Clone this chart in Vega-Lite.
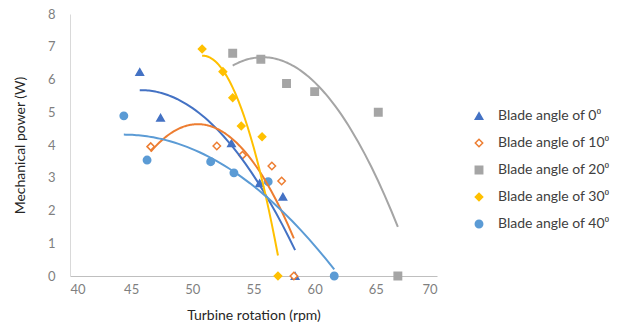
{
  "$schema": "https://vega.github.io/schema/vega-lite/v6.json",
  "width": 367,
  "height": 262,
  "autosize": {"type": "none"},
  "padding": {"left": 70, "top": 14, "right": 192, "bottom": 55},
  "background": "white",
  "config": {
    "view": {"stroke": null},
    "font": "Lato"
  },
  "data": {
    "values": [
      {"series": "Blade angle of 0⁰", "rpm": 45.7, "power": 6.23},
      {"series": "Blade angle of 0⁰", "rpm": 47.4, "power": 4.83},
      {"series": "Blade angle of 0⁰", "rpm": 53.2, "power": 4.05},
      {"series": "Blade angle of 0⁰", "rpm": 55.5, "power": 2.83},
      {"series": "Blade angle of 0⁰", "rpm": 57.4, "power": 2.42},
      {"series": "Blade angle of 0⁰", "rpm": 58.4, "power": 0},
      {"series": "Blade angle of 10⁰", "rpm": 46.6, "power": 3.95},
      {"series": "Blade angle of 10⁰", "rpm": 52.0, "power": 3.97},
      {"series": "Blade angle of 10⁰", "rpm": 54.1, "power": 3.69},
      {"series": "Blade angle of 10⁰", "rpm": 56.5, "power": 3.36},
      {"series": "Blade angle of 10⁰", "rpm": 57.3, "power": 2.9},
      {"series": "Blade angle of 10⁰", "rpm": 58.3, "power": 0},
      {"series": "Blade angle of 20⁰", "rpm": 53.3, "power": 6.8},
      {"series": "Blade angle of 20⁰", "rpm": 55.6, "power": 6.62},
      {"series": "Blade angle of 20⁰", "rpm": 57.7, "power": 5.88},
      {"series": "Blade angle of 20⁰", "rpm": 60.0, "power": 5.63},
      {"series": "Blade angle of 20⁰", "rpm": 65.2, "power": 5.0},
      {"series": "Blade angle of 20⁰", "rpm": 66.8, "power": 0},
      {"series": "Blade angle of 30⁰", "rpm": 50.8, "power": 6.93},
      {"series": "Blade angle of 30⁰", "rpm": 52.5, "power": 6.24},
      {"series": "Blade angle of 30⁰", "rpm": 53.3, "power": 5.44},
      {"series": "Blade angle of 30⁰", "rpm": 54.0, "power": 4.58},
      {"series": "Blade angle of 30⁰", "rpm": 55.7, "power": 4.25},
      {"series": "Blade angle of 30⁰", "rpm": 57.0, "power": 0},
      {"series": "Blade angle of 40⁰", "rpm": 44.4, "power": 4.89},
      {"series": "Blade angle of 40⁰", "rpm": 46.3, "power": 3.54},
      {"series": "Blade angle of 40⁰", "rpm": 51.5, "power": 3.49},
      {"series": "Blade angle of 40⁰", "rpm": 53.4, "power": 3.15},
      {"series": "Blade angle of 40⁰", "rpm": 56.2, "power": 2.88},
      {"series": "Blade angle of 40⁰", "rpm": 61.6, "power": 0}
    ]
  },
  "encoding": {
    "x": {
      "field": "rpm", "type": "quantitative",
      "scale": {"domain": [40, 70], "nice": false, "zero": false},
      "axis": {
        "title": "Turbine rotation (rpm)", "values": [40, 45, 50, 55, 60, 65, 70],
        "grid": false, "ticks": false, "domainColor": "#BFBFBF", "domainWidth": 1,
        "labelColor": "#7F7F7F", "labelFontSize": 13, "labelPadding": 7,
        "titleColor": "#262626", "titleFontSize": 14, "titleFontWeight": "normal", "titlePadding": 12
      }
    },
    "y": {
      "field": "power", "type": "quantitative",
      "scale": {"domain": [0, 8], "nice": false},
      "axis": {
        "title": "Mechanical power (W)", "values": [0, 1, 2, 3, 4, 5, 6, 7, 8],
        "grid": false, "ticks": false, "domainColor": "#D9D9D9", "domainWidth": 1,
        "labelColor": "#7F7F7F", "labelFontSize": 13, "labelPadding": 15,
        "titleColor": "#262626", "titleFontSize": 14, "titleFontWeight": "normal", "titlePadding": 20
      }
    }
  },
  "layer": [
    {
      "mark": {"type": "point", "filled": false, "size": 55, "strokeWidth": 1.5, "opacity": 1},
      "encoding": {
        "shape": {
          "field": "series", "type": "nominal",
          "scale": {
            "domain": ["Blade angle of 0⁰", "Blade angle of 10⁰", "Blade angle of 20⁰", "Blade angle of 30⁰", "Blade angle of 40⁰"],
            "range": ["triangle-up", "diamond", "square", "diamond", "circle"]
          },
          "legend": {
            "title": null, "orient": "none", "legendX": 402, "legendY": 95,
            "labelFontSize": 14, "labelColor": "#404040", "rowPadding": 13, "symbolSize": 55,
            "labelOffset": 12, "symbolStrokeWidth": 1.5
          }
        },
        "fill": {
          "field": "series", "type": "nominal",
          "scale": {
            "domain": ["Blade angle of 0⁰", "Blade angle of 10⁰", "Blade angle of 20⁰", "Blade angle of 30⁰", "Blade angle of 40⁰"],
            "range": ["#4472C4", "#FFFFFF", "#A5A5A5", "#FFC000", "#5B9BD5"]
          },
          "legend": {
            "title": null, "orient": "none", "legendX": 402, "legendY": 95,
            "labelFontSize": 14, "labelColor": "#404040", "rowPadding": 13, "symbolSize": 55,
            "labelOffset": 12, "symbolStrokeWidth": 1.5
          }
        },
        "stroke": {
          "field": "series", "type": "nominal",
          "scale": {
            "domain": ["Blade angle of 0⁰", "Blade angle of 10⁰", "Blade angle of 20⁰", "Blade angle of 30⁰", "Blade angle of 40⁰"],
            "range": ["#4472C4", "#ED7D31", "#A5A5A5", "#FFC000", "#5B9BD5"]
          },
          "legend": {
            "title": null, "orient": "none", "legendX": 402, "legendY": 95,
            "labelFontSize": 14, "labelColor": "#404040", "rowPadding": 13, "symbolSize": 55,
            "labelOffset": 12, "symbolStrokeWidth": 1.5
          }
        }
      }
    },
    {
      "transform": [
        {"regression": "power", "on": "rpm", "groupby": ["series"], "method": "poly", "order": 2}
      ],
      "mark": {"type": "line", "strokeWidth": 2},
      "encoding": {
        "stroke": {"field": "series", "type": "nominal", "legend": null}
      }
    }
  ]
}
